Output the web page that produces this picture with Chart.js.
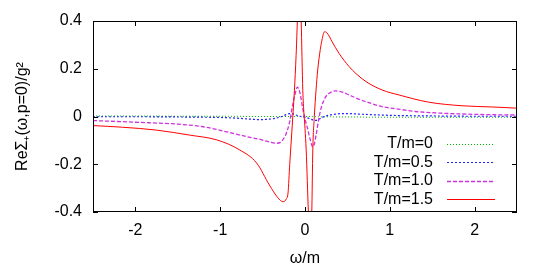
<!DOCTYPE html>
<html>
<head>
<meta charset="utf-8">
<script src="https://cdn.jsdelivr.net/npm/chart.js@4.4.1/dist/chart.umd.min.js"></script>
<style>
    html, body { margin: 0; padding: 0; background: #fff; }
    #wrap { width: 548px; height: 268px; }
</style>
</head>
<body>
<div id="wrap"><canvas id="my-chart" width="548" height="268"></canvas></div>
<script>
const xTicks = [-2, -1, 0, 1, 2];
const yTicks = [-0.4, -0.2, 0, 0.2, 0.4];
const yTickLabels = ['-0.4', '-0.2', '0', '0.2', '0.4'];
const seriesLabels = ['T/m=0', 'T/m=0.5', 'T/m=1.0', 'T/m=1.5'];

// omega grid for the three small curves
const omegaS = [-2.5, -2.0, -1.5, -1.2, -1.0, -0.8, -0.65, -0.54, -0.42, -0.34, -0.28, -0.22, -0.18, -0.15, -0.12, -0.09, -0.06, -0.03, 0,
    0.03, 0.06, 0.09, 0.11, 0.13, 0.16, 0.19, 0.24, 0.3, 0.36, 0.44, 0.52, 0.64, 0.76, 0.9, 1.1, 1.3, 1.6, 2.0, 2.5];
const valsT00 = [0.002, 0.002, 0.001, 0.001, 0.001, 0.001, 0, 0, 0, 0, 0, 0, 0, 0, 0, 0, 0, 0, 0,
    0, 0, 0, 0, -0.001, -0.001, -0.001, -0.001, -0.001, -0.002, -0.002, -0.002, -0.002, -0.003, -0.003, -0.003, -0.003, -0.003, -0.003, -0.003];
const valsT05 = [-0.001, -0.001, -0.002, -0.003, -0.004, -0.007, -0.011, -0.013, -0.011, -0.007, -0.001, 0.008, 0.012, 0.012, 0.008, 0.004, 0.001, -0.002, -0.004,
    -0.006, -0.01, -0.014, -0.016, -0.016, -0.012, -0.006, 0.001, 0.007, 0.01, 0.012, 0.012, 0.01, 0.008, 0.006, 0.004, 0.003, 0.002, 0.001, 0.001];
const valsT10 = [-0.017, -0.024, -0.032, -0.043, -0.058, -0.075, -0.087, -0.095, -0.107, -0.112, -0.105, -0.07, -0.02, 0.04, 0.09, 0.123, 0.1, 0.04, -0.01,
    -0.05, -0.095, -0.127, -0.115, -0.08, -0.015, 0.035, 0.08, 0.1, 0.107, 0.102, 0.09, 0.072, 0.057, 0.042, 0.031, 0.021, 0.014, 0.009, 0.006];

// omega grid for T/m=1.5 (denser near the origin)
const omegaR = [-2.5, -2.15, -1.75, -1.36, -1.04, -0.77, -0.57, -0.42, -0.32, -0.26, -0.22, -0.2, -0.18, -0.16, -0.14, -0.12, -0.1, -0.085,
    -0.07, -0.055, -0.045, -0.026, 0, 0.014, 0.04, 0.06, 0.08, 0.092, 0.11, 0.13, 0.15, 0.18, 0.2, 0.23, 0.26, 0.32, 0.4, 0.52, 0.6, 0.72,
    0.91, 1.11, 1.46, 1.85, 2.2, 2.5];
const valsT15 = [-0.038, -0.045, -0.057, -0.078, -0.098, -0.14, -0.195, -0.287, -0.34, -0.357, -0.345, -0.32, -0.2, -0.09, 0.02, 0.14, 0.3, 0.45,
    0.55, 0.5, 0.4, 0.11, -0.05, -0.14, -0.4, -0.55, -0.4, -0.14, 0.0, 0.11, 0.195, 0.28, 0.32, 0.355, 0.35, 0.313, 0.265, 0.209, 0.18, 0.146,
    0.111, 0.09, 0.06, 0.045, 0.04, 0.035];

const pts = (xs, ys) => xs.map((x, i) => ({ x: x, y: ys[i] }));

Chart.defaults.font.family = '"Liberation Sans", Arial, sans-serif';
Chart.defaults.font.size = 16;
Chart.defaults.color = '#000';

// gnuplot-like frame, inward ticks and key in the lower right corner
const frame = {
    id: 'frame',
    afterDatasetsDraw(chart) {
        const { ctx, chartArea: a, scales } = chart;
        ctx.save();
        ctx.strokeStyle = '#000';
        ctx.lineWidth = 1;
        ctx.setLineDash([]);
        ctx.strokeRect(a.left + 0.5, a.top + 0.5, a.right - a.left - 1, a.bottom - a.top - 1);
        ctx.beginPath();
        xTicks.forEach(v => {
            const px = Math.round(scales.x.getPixelForValue(v)) + 0.5;
            ctx.moveTo(px, a.bottom); ctx.lineTo(px, a.bottom - 5);
            ctx.moveTo(px, a.top); ctx.lineTo(px, a.top + 5);
        });
        yTicks.forEach(v => {
            const py = Math.round(scales.y.getPixelForValue(v)) + 0.5;
            ctx.moveTo(a.left, py); ctx.lineTo(a.left + 5, py);
            ctx.moveTo(a.right, py); ctx.lineTo(a.right - 5, py);
        });
        ctx.stroke();

        ctx.font = '16px "Liberation Sans", Arial, sans-serif';
        ctx.textAlign = 'right';
        ctx.textBaseline = 'middle';
        chart.data.datasets.forEach((ds, i) => {
            const y = a.bottom - 68 + i * 18.4;
            ctx.fillStyle = '#000';
            ctx.fillText(ds.label, a.right - 84, y);
            ctx.strokeStyle = ds.borderColor;
            ctx.lineWidth = ds.borderWidth;
            ctx.setLineDash(ds.borderDash || []);
            ctx.beginPath();
            ctx.moveTo(a.right - 70, Math.round(y) + 0.5);
            ctx.lineTo(a.right - 22, Math.round(y) + 0.5);
            ctx.stroke();
        });
        ctx.restore();
    }
};

const ctx = document.getElementById('my-chart').getContext('2d');
new Chart(ctx, {
    type: 'line',
    data: {
        datasets: [
            { label: seriesLabels[0], data: pts(omegaS, valsT00), borderColor: '#00b400', borderWidth: 1, borderDash: [1, 2], order: 3 },
            { label: seriesLabels[1], data: pts(omegaS, valsT05), borderColor: '#2020ff', borderWidth: 1.2, borderDash: [2, 2], order: 2 },
            { label: seriesLabels[2], data: pts(omegaS, valsT10), borderColor: '#d030e0', borderWidth: 1.3, borderDash: [4, 2], order: 1 },
            { label: seriesLabels[3], data: pts(omegaR, valsT15), borderColor: '#ff0000', borderWidth: 1, order: 0 }
        ]
    },
    options: {
        responsive: false,
        animation: false,
        layout: { padding: { top: 21, right: 31, left: 0, bottom: 0 } },
        elements: {
            point: { radius: 0 },
            line: { cubicInterpolationMode: 'monotone', fill: false }
        },
        plugins: {
            legend: { display: false },
            tooltip: { enabled: false }
        },
        scales: {
            x: {
                type: 'linear',
                min: -2.5,
                max: 2.5,
                grid: { display: false, drawTicks: false },
                border: { display: false },
                afterBuildTicks: s => { s.ticks = xTicks.map(v => ({ value: v })); },
                afterFit: s => { s.height = 56; },
                ticks: { padding: 9, maxRotation: 0, autoSkip: false, callback: v => String(v) },
                title: { display: true, text: 'ω/m', padding: 0 }
            },
            y: {
                min: -0.4,
                max: 0.4,
                grid: { display: false, drawTicks: false },
                border: { display: false },
                afterBuildTicks: s => { s.ticks = yTicks.map(v => ({ value: v })); },
                afterFit: s => { s.width = 93; },
                ticks: { padding: 11, autoSkip: false, callback: (v, i) => yTickLabels[i] },
                title: { display: true, text: 'ReΣ₊(ω,p=0)/g²', padding: { top: 13, bottom: 0 } }
            }
        }
    },
    plugins: [frame]
});
</script>
</body>
</html>
